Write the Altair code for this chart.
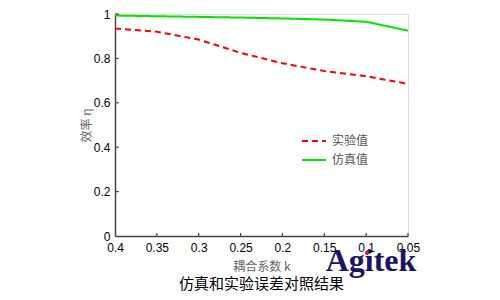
import altair as alt
import pandas as pd

k_values = [0.4, 0.35, 0.3, 0.25, 0.2, 0.15, 0.1, 0.05]
experiment = [0.935, 0.92, 0.885, 0.825, 0.778, 0.743, 0.72, 0.685]
simulation = [0.993, 0.99, 0.987, 0.984, 0.98, 0.975, 0.965, 0.925]
series_names = ["实验值", "仿真值"]
x_ticks = [0.4, 0.35, 0.3, 0.25, 0.2, 0.15, 0.1, 0.05]
y_ticks = [0, 0.2, 0.4, 0.6, 0.8, 1.0]

rows = []
for k, e, s in zip(k_values, experiment, simulation):
    rows.append({"k": k, "eta": e, "series": series_names[0]})
    rows.append({"k": k, "eta": s, "series": series_names[1]})
df = pd.DataFrame(rows)

xscale = alt.Scale(domain=[0.05, 0.4], reverse=True, nice=False, zero=False)
yscale = alt.Scale(domain=[0, 1], nice=False)

lines = alt.Chart(df).mark_line(strokeWidth=2).encode(
    x=alt.X("k:Q", scale=xscale,
            axis=alt.Axis(values=x_ticks, format=".2~f", title="耦合系数 k",
                          tickSize=0, labelPadding=6, labelFontSize=12,
                          labelFont="Liberation Sans", labelColor="#000",
                          titleFont="Noto Sans CJK SC", titleFontSize=12,
                          titleFontWeight="normal", titleColor="#666",
                          titlePadding=8, domainColor="#444", domainWidth=1.5,
                          grid=False, labelFlush=False)),
    y=alt.Y("eta:Q", scale=yscale,
            axis=alt.Axis(values=y_ticks, format=".1~f", title="效率 η",
                          tickSize=0, labelPadding=5, labelFontSize=12,
                          labelFont="Liberation Sans", labelColor="#000",
                          titleFont="Noto Sans CJK SC", titleFontSize=12,
                          titleFontWeight="normal", titleColor="#666",
                          titlePadding=0, domainColor="#444", domainWidth=1.5,
                          grid=False)),
    color=alt.Color("series:N", scale=alt.Scale(domain=series_names, range=["#ff0000", "#00e600"]),
                    legend=alt.Legend(title=None, orient="none", legendX=186, legendY=114,
                                      symbolType="stroke", symbolSize=576, symbolStrokeWidth=2,
                                      labelFont="Noto Sans CJK SC", labelFontSize=12,
                                      labelColor="#555", rowPadding=-14, labelOffset=5)),
    strokeDash=alt.StrokeDash("series:N", scale=alt.Scale(domain=series_names, range=[[6, 4], [1, 0]]),
                              legend=None),
)

xt = pd.DataFrame({"k": x_ticks[1:], "y0": [0] * 7, "y1": [0.014] * 7})
xtick_rules = alt.Chart(xt).mark_rule(color="#444", strokeWidth=1.2).encode(
    x=alt.X("k:Q", scale=xscale), y=alt.Y("y0:Q", scale=yscale), y2="y1:Q")

yt = pd.DataFrame({"eta": y_ticks[1:], "x0": [0.4] * 5, "x1": [0.3955] * 5})
ytick_rules = alt.Chart(yt).mark_rule(color="#444", strokeWidth=1.2).encode(
    y=alt.Y("eta:Q", scale=yscale), x=alt.X("x0:Q", scale=xscale), x2="x1:Q")

logo = alt.Chart(pd.DataFrame({"t": ["Agitek"]})).mark_text(
    font="Liberation Serif", fontSize=32, fontWeight="bold", color="#1b1464",
    align="center", baseline="middle").encode(
    text="t:N", x=alt.value(256), y=alt.value(247))

logo_dot = alt.Chart(pd.DataFrame({"t": ["dot"]})).mark_point(
    filled=True, color="#e8141e", size=18, opacity=1).encode(
    x=alt.value(252), y=alt.value(239))

chart = alt.layer(lines, xtick_rules, ytick_rules, logo, logo_dot).properties(
    width=293, height=222,
    title=alt.TitleParams("仿真和实验误差对照结果", orient="bottom", font="Noto Sans CJK SC",
                          fontSize=15, fontWeight="normal", color="#000", offset=0),
    autosize=alt.AutoSizeParams(type="none"),
    padding={"left": 115, "top": 14, "right": 92, "bottom": 64},
).configure_view(stroke=None).configure(background="white")

chart.save("out.html", embed_options={"renderer": "svg", "actions": False})
